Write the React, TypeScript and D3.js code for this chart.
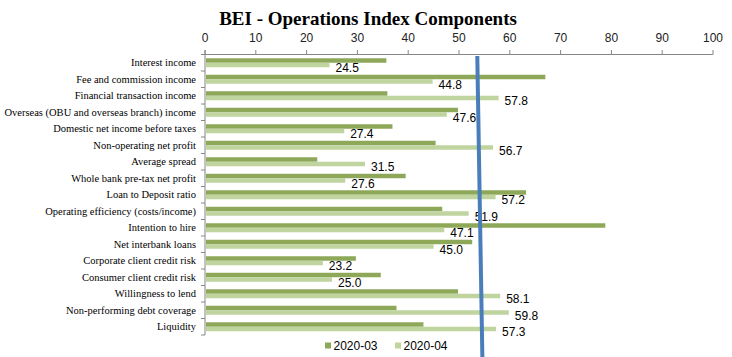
import React, { useEffect, useRef } from "react";
import * as d3 from "d3";

const categories = [
  "Interest income",
  "Fee and commission income",
  "Financial transaction income",
  "Overseas (OBU and overseas branch) income",
  "Domestic net income before taxes",
  "Non-operating net profit",
  "Average spread",
  "Whole bank pre-tax net profit",
  "Loan to Deposit ratio",
  "Operating efficiency (costs/income)",
  "Intention to hire",
  "Net interbank loans",
  "Corporate client credit risk",
  "Consumer client credit risk",
  "Willingness to lend",
  "Non-performing debt coverage",
  "Liquidity",
];

const series2020_03 = [35.7, 67.0, 35.9, 49.8, 36.9, 45.4, 22.1, 39.5, 63.2, 46.7, 78.8, 52.6, 29.7, 34.6, 49.8, 37.7, 43.0];
const series2020_04 = [24.5, 44.8, 57.8, 47.6, 27.4, 56.7, 31.5, 27.6, 57.2, 51.9, 47.1, 45.0, 23.2, 25.0, 58.1, 59.8, 57.3];
const seriesNames = ["2020-03", "2020-04"];
const xTicks = [0, 10, 20, 30, 40, 50, 60, 70, 80, 90, 100];
const markerLine = [53.6, 54.6]; // value at top, value at bottom
const title = "BEI - Operations Index Components";

const W = 732;
const H = 357;
const colors = ["#8EA85A", "#BFD49E"];
const SERIF = "'Liberation Serif', 'Times New Roman', serif";
const SANS = "'Liberation Sans', Arial, sans-serif";

export default function App() {
  const ref = useRef<SVGSVGElement>(null);

  useEffect(() => {
    const svg = d3.select(ref.current);
    svg.selectAll("*").remove();

    const left = 205, right = 713, top = 54.5, bottom = 335;
    const x = d3.scaleLinear().domain([0, 100]).range([left, right]);
    const y = d3.scaleBand<string>().domain(categories).range([top, bottom]);
    const sub = d3.scaleBand<string>().domain(seriesNames).range([-4.5, 4.5]);

    svg.append("rect").attr("width", W).attr("height", H).attr("fill", "#fff");

    // title
    svg.append("text")
      .attr("x", 368).attr("y", 25)
      .attr("text-anchor", "middle")
      .style("font-family", SERIF)
      .attr("font-weight", "bold")
      .attr("font-size", 19)
      .attr("fill", "#000")
      .text(title);

    // top axis
    const ax = svg.append("g");
    ax.append("line").attr("x1", left).attr("x2", right).attr("y1", top).attr("y2", top)
      .attr("stroke", "#868686").attr("stroke-width", 1);
    xTicks.forEach((t) => {
      ax.append("line").attr("x1", x(t)).attr("x2", x(t)).attr("y1", top - 4.5).attr("y2", top)
        .attr("stroke", "#868686");
      ax.append("text").attr("x", x(t)).attr("y", 42)
        .attr("text-anchor", "middle")
        .style("font-family", SANS)
        .attr("font-size", 12).attr("fill", "#222")
        .text(String(t));
    });

    // category axis
    const cy = svg.append("g");
    cy.append("line").attr("x1", left).attr("x2", left).attr("y1", top - 4.5).attr("y2", bottom)
      .attr("stroke", "#868686");
    categories.forEach((c, i) => {
      const yb = y(c)!;
      cy.append("line").attr("x1", left - 4).attr("x2", left).attr("y1", yb).attr("y2", yb)
        .attr("stroke", "#868686");
      if (i === categories.length - 1) {
        cy.append("line").attr("x1", left - 4).attr("x2", left).attr("y1", bottom).attr("y2", bottom)
          .attr("stroke", "#868686");
      }
      cy.append("text")
        .attr("x", 196).attr("y", yb + y.bandwidth() / 2)
        .attr("dy", "0.35em")
        .attr("text-anchor", "end")
        .style("font-family", SERIF)
        .attr("font-size", 10.5).attr("fill", "#000")
        .text(c);
    });

    // bars
    const data = [series2020_03, series2020_04];
    data.forEach((vals, si) => {
      svg.append("g").selectAll("rect").data(vals).join("rect")
        .attr("x", x(0) + 1)
        .attr("y", (_, i) => y(categories[i])! + y.bandwidth() / 2 + sub(seriesNames[si])!)
        .attr("width", (v) => x(v) - x(0) - 1)
        .attr("height", sub.bandwidth())
        .attr("fill", colors[si]);
    });

    // labels for 2020-04
    svg.append("g").selectAll("text").data(series2020_04).join("text")
      .attr("x", (v) => x(v) + 6)
      .attr("y", (_, i) => y(categories[i])! + y.bandwidth() / 2 + sub(seriesNames[1])! + sub.bandwidth() / 2 + 7)
      .style("font-family", SANS)
      .attr("font-size", 12).attr("fill", "#000")
      .text((v) => v.toFixed(1));

    // legend
    const lg = svg.append("g");
    const legendX = [325, 395];
    seriesNames.forEach((n, i) => {
      lg.append("rect").attr("x", legendX[i]).attr("y", 342.5).attr("width", 6).attr("height", 6)
        .attr("fill", colors[i]);
      lg.append("text").attr("x", legendX[i] + 8.5).attr("y", 350)
        .style("font-family", SANS)
        .attr("font-size", 12).attr("fill", "#000")
        .text(n);
    });

    // blue marker line
    svg.append("line")
      .attr("x1", x(markerLine[0])).attr("y1", 56)
      .attr("x2", x(markerLine[1])).attr("y2", H)
      .attr("stroke", "#4A7EBB").attr("stroke-width", 4);
  }, []);

  return (
    <svg ref={ref} width={W} height={H}
      style={{ position: "absolute", left: 0, top: 0, display: "block" }} />
  );
}
